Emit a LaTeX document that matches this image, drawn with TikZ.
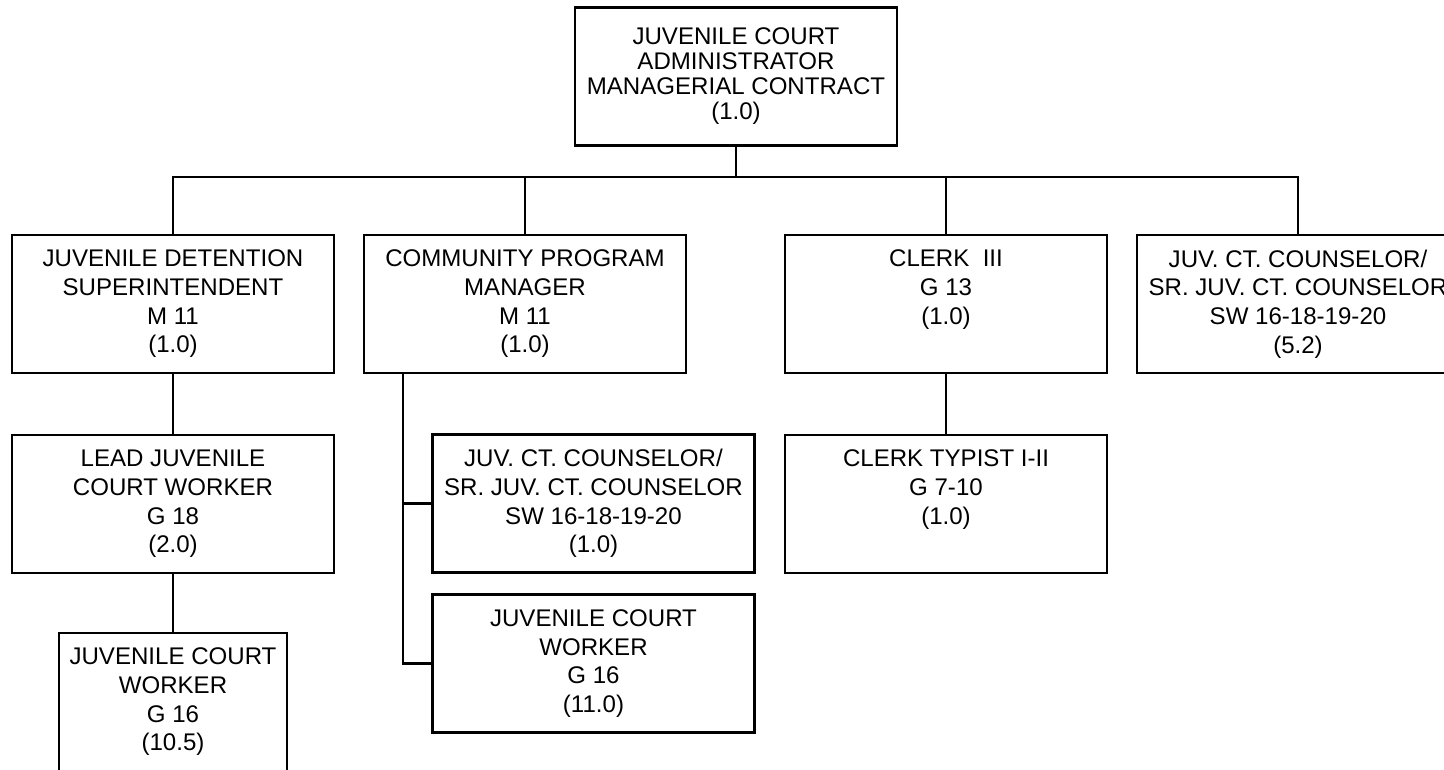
\documentclass[tikz,border=0pt]{standalone}
\usepackage{fontspec}
\setmainfont{Liberation Sans}
\usetikzlibrary{calc}

\begin{document}
\begin{tikzpicture}[x=0.02cm,y=-0.02cm,
	post/.style={draw,line width=1.4pt,minimum width=6.44cm,minimum height=2.76cm,align=center,inner sep=0pt,font=\fontsize{13.7}{16.3}\selectfont},
	link/.style={line width=1.4pt,line cap=rect}]
	\useasboundingbox (0,0) rectangle (1444,769);
	
	% Administrator
	\node (admin) at (736,76.5) [post,font=\fontsize{13.7}{14.2}\selectfont] {JUVENILE COURT\\ADMINISTRATOR\\MANAGERIAL CONTRACT\\(1.0)};
	
	% Second row
	\node (detention) at (173,304) [post] {JUVENILE DETENTION\\SUPERINTENDENT\\M 11\\(1.0)};
	\node (community) at (525,304) [post] {COMMUNITY PROGRAM\\MANAGER\\M 11\\(1.0)};
	\node (clerk) at (946,304) [post] {CLERK\ \ III\\G 13\\(1.0)\\\phantom{(1.0)}};
	\node (counselor) at (1298,304) [post] {JUV. CT. COUNSELOR/\\SR. JUV. CT. COUNSELOR\\SW 16-18-19-20\\(5.2)};
	
	% Third row
	\node (lead) at (173,504) [post] {LEAD JUVENILE\\COURT WORKER\\G 18\\(2.0)};
	\node (juvcounselor) at (593.5,503.5) [post] {JUV. CT. COUNSELOR/\\SR. JUV. CT. COUNSELOR\\SW 16-18-19-20\\(1.0)};
	\node (juvworker) at (593.5,663.5) [post] {JUVENILE COURT\\WORKER\\G 16\\(11.0)};
	\node (typist) at (946,504) [post] {CLERK TYPIST I-II\\G 7-10\\(1.0)\\\phantom{(1.0)}};
	
	% Fourth row
	\node (worker) at (173,702) [post,minimum width=4.56cm] {JUVENILE COURT\\WORKER\\G 16\\(10.5)};
	
	% Bus from the administrator
	\coordinate (bus) at (736,177);
	\draw[link] (admin.south) -- (bus);
	\draw[link] (detention.north |- bus) -- (counselor.north |- bus);
	\foreach \n in {detention,community,clerk,counselor}
		\draw[link] (\n.north) -- (\n.north |- bus);
	
	% Lower links
	\draw[link] (detention) -- (lead);
	\draw[link] (lead) -- (worker);
	\draw[link] (clerk) -- (typist);
	\coordinate (spine) at (403,0);
	\draw[link] (spine |- community.south) |- (juvcounselor.west);
	\draw[link] (spine |- community.south) |- (juvworker.west);
\end{tikzpicture}
\end{document}
